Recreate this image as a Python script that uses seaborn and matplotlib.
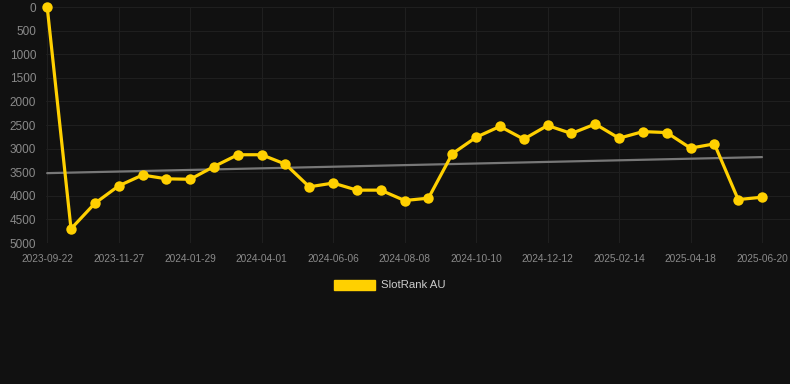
import matplotlib
matplotlib.use("Agg")
import matplotlib.pyplot as plt
import seaborn as sns
import pandas as pd
import numpy as np
from matplotlib.patches import Patch

# ---- data ----
tick_labels = ["2023-09-22", "2023-11-27", "2024-01-29", "2024-04-01", "2024-06-06",
               "2024-08-08", "2024-10-10", "2024-12-12", "2025-02-14", "2025-04-18",
               "2025-06-20"]
rank_values = [0, 4700, 4160, 3790, 3560, 3640, 3650, 3380, 3130, 3130, 3330,
               3810, 3730, 3880, 3880, 4100, 4050, 3110, 2760, 2530, 2800,
               2510, 2680, 2480, 2780, 2640, 2660, 2990, 2900, 4080, 4030]
trend_values = [3520, 3180]   # start / end of trend line
series_name = "SlotRank AU"
y_ticks = [0, 500, 1000, 1500, 2000, 2500, 3000, 3500, 4000, 4500, 5000]

BG = "#111111"
YELLOW = "#FFD000"

sns.set_theme(style="dark")
plt.rcParams['font.family'] = ['Liberation Sans', 'DejaVu Sans']

df = pd.DataFrame({"idx": np.arange(len(rank_values)), "rank": rank_values})
n = len(rank_values)
trend_df = pd.DataFrame({"idx": [0, n - 1], "rank": trend_values})

fig = plt.figure(figsize=(7.9, 3.84), dpi=100, facecolor=BG)
ax = fig.add_axes([46 / 790, 1 - 243 / 384, 744 / 790, 236 / 384])
ax.set_facecolor(BG)

sns.lineplot(data=trend_df, x="idx", y="rank", ax=ax, color="#777777",
             linewidth=1.6, zorder=2)
sns.lineplot(data=df, x="idx", y="rank", ax=ax, color=YELLOW, linewidth=2.3,
             marker="o", markersize=7.5, markeredgewidth=0, zorder=3,
             clip_on=False)

ax.set_xlim(-0.05, (790 - 47) / ((762 - 47) / (n - 1)))
ax.set_ylim(5000, 0)
ax.set_xticks(np.arange(0, n, 3))
ax.set_xticklabels(tick_labels)
ax.set_yticks(y_ticks)
ax.set_yticklabels([str(v) for v in y_ticks])
ax.set_xlabel("")
ax.set_ylabel("")

ax.grid(True, color="#1f1f1f", linewidth=0.8)
ax.tick_params(axis="x", length=0, pad=8, labelsize=7.3, labelcolor="#8a8a8a")
ax.tick_params(axis="y", length=0, pad=7, labelsize=8.5, labelcolor="#8a8a8a")
for s in ax.spines.values():
    s.set_visible(False)

handle = Patch(facecolor=YELLOW, edgecolor=YELLOW)
fig.legend([handle], [series_name], loc="center", bbox_to_anchor=(390 / 790, 1 - 285 / 384),
           frameon=False, fontsize=8.2, labelcolor="#cccccc",
           handlelength=3.6, handleheight=1.0, handletextpad=0.5)

fig.savefig("out.png", dpi=100, facecolor=BG)
